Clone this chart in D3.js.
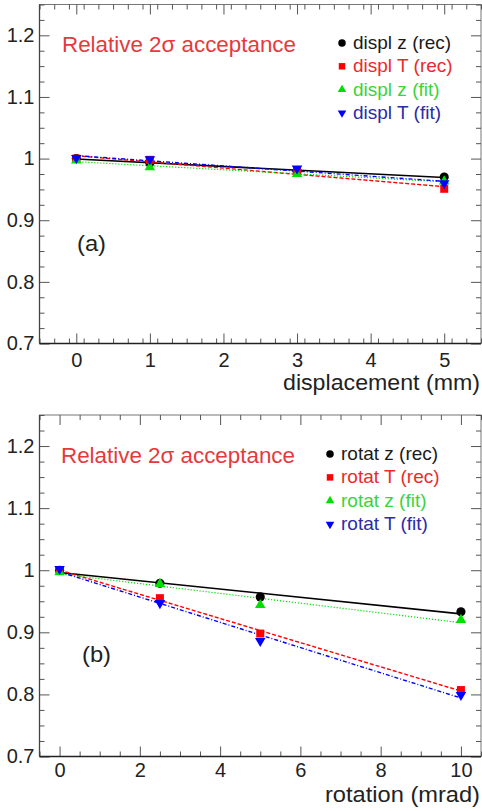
<!DOCTYPE html>
<html>
<head>
<meta charset="utf-8">
<script src="https://cdn.jsdelivr.net/npm/d3@7"></script>
<style>
  html, body { margin: 0; padding: 0; background: #fff; }
  svg { display: block; font-family: "Liberation Sans", Arial, sans-serif; }
</style>
</head>
<body>
<svg id="chart" width="482" height="811"></svg>
<script>
// (a) relative 2-sigma acceptance versus detector displacement
const displX     = [0, 1, 3, 5];
const displZRec  = [1.000, 0.993, 0.980, 0.970];
const displTRec  = [1.000, 0.998, 0.979, 0.951];
const displZFit  = [0.997, 0.986, 0.975, 0.963];
const displTFit  = [1.001, 0.999, 0.984, 0.960];

// (b) relative 2-sigma acceptance versus detector rotation
const rotatX     = [0, 2.5, 5, 10];
const rotatZRec  = [1.000, 0.979, 0.957, 0.933];
const rotatTRec  = [1.000, 0.955, 0.898, 0.807];
const rotatZFit  = [0.997, 0.978, 0.944, 0.920];
const rotatTFit  = [1.002, 0.947, 0.886, 0.799];

// tick values and labels
const yTicks      = [0.7, 0.8, 0.9, 1, 1.1, 1.2];
const yTickLabels = ["0.7", "0.8", "0.9", "1", "1.1", "1.2"];
const displTicks  = [0, 1, 2, 3, 4, 5];
const rotatTicks  = [0, 2, 4, 6, 8, 10];

// series names
const displNames = ["displ z (rec)", "displ T (rec)", "displ z (fit)", "displ T (fit)"];
const rotatNames = ["rotat z (rec)", "rotat T (rec)", "rotat z (fit)", "rotat T (fit)"];

// marker / line styles for the four series, in drawing order
const styles = [
  { color: "#000000", text: "#1a1a1a", symbol: d3.symbolCircle,   size: 66, legendSize: 44, rot: 0,   dash: null,      width: 1.6 },
  { color: "#ff0000", text: "#ec2a2a", symbol: d3.symbolSquare,   size: 64, legendSize: 42, rot: 0,   dash: "4,2",     width: 1.4 },
  { color: "#00e000", text: "#3ad43a", symbol: d3.symbolTriangle, size: 48, legendSize: 32, rot: 0,   dash: "1.2,1.8", width: 1.2 },
  { color: "#0000ff", text: "#2b2ba8", symbol: d3.symbolTriangle, size: 48, legendSize: 32, rot: 180, dash: "4,2,1,2", width: 1.4 }
];

const svg = d3.select("#chart");

// least-squares straight line through a series
function linFit(xs, ys) {
  const mx = d3.mean(xs), my = d3.mean(ys);
  let sxy = 0, sxx = 0;
  xs.forEach((x, i) => { sxy += (x - mx) * (ys[i] - my); sxx += (x - mx) * (x - mx); });
  const b = sxy / sxx;
  return { a: my - b * mx, b: b };
}

function minorValues(domain, step, majors) {
  const n = Math.round((domain[1] - domain[0]) / step);
  const out = [];
  for (let i = 0; i <= n; i++) {
    const v = +(domain[0] + i * step).toFixed(6);
    if (!majors.some(m => Math.abs(m - v) < 1e-6)) out.push(v);
  }
  return out;
}

function drawPanel(cfg) {
  const x = d3.scaleLinear().domain(cfg.xDomain).range([cfg.left, cfg.right]);
  const y = d3.scaleLinear().domain([0.7, 1.25]).range([cfg.bottom, cfg.top]);
  const g = svg.append("g");

  // frame
  g.append("rect")
    .attr("x", cfg.left).attr("y", cfg.top)
    .attr("width", cfg.right - cfg.left).attr("height", cfg.bottom - cfg.top)
    .attr("fill", "none").attr("stroke", "#777").attr("stroke-width", 1);

  const yMinor = minorValues([0.7, 1.25], 0.025, yTicks);
  const xMinor = minorValues(cfg.xDomain, cfg.xMinorStep, cfg.xTicks);

  const styleAxis = sel => {
    sel.select(".domain").remove();
    sel.selectAll(".tick line").attr("stroke", "#555").attr("stroke-width", 1);
  };

  // left axis with labels
  const yLab = d3.scaleOrdinal().domain(yTicks).range(yTickLabels);
  g.append("g").attr("transform", `translate(${cfg.left},0)`)
    .call(d3.axisLeft(y).tickValues(yTicks).tickSize(-10).tickPadding(5).tickFormat(d => yLab(d)))
    .call(styleAxis)
    .call(s => s.selectAll("text").attr("font-size", 20).attr("fill", "#222")
      .style("font-family", '"Liberation Sans", Arial, sans-serif'));
  g.append("g").attr("transform", `translate(${cfg.left},0)`)
    .call(d3.axisLeft(y).tickValues(yMinor).tickSize(-5).tickFormat(""))
    .call(styleAxis);

  // right axis ticks
  g.append("g").attr("transform", `translate(${cfg.right},0)`)
    .call(d3.axisRight(y).tickValues(yTicks).tickSize(-10).tickFormat(""))
    .call(styleAxis);
  g.append("g").attr("transform", `translate(${cfg.right},0)`)
    .call(d3.axisRight(y).tickValues(yMinor).tickSize(-5).tickFormat(""))
    .call(styleAxis);

  // bottom axis with labels
  g.append("g").attr("transform", `translate(0,${cfg.bottom})`)
    .call(d3.axisBottom(x).tickValues(cfg.xTicks).tickSize(-10).tickPadding(cfg.xPad).tickFormat(d => String(d)))
    .call(styleAxis)
    .call(s => s.selectAll("text").attr("font-size", 20).attr("fill", "#222")
      .style("font-family", '"Liberation Sans", Arial, sans-serif'));
  g.append("g").attr("transform", `translate(0,${cfg.bottom})`)
    .call(d3.axisBottom(x).tickValues(xMinor).tickSize(-5).tickFormat(""))
    .call(styleAxis);

  // top axis ticks
  g.append("g").attr("transform", `translate(0,${cfg.top})`)
    .call(d3.axisTop(x).tickValues(cfg.xTicks).tickSize(-10).tickFormat(""))
    .call(styleAxis);
  g.append("g").attr("transform", `translate(0,${cfg.top})`)
    .call(d3.axisTop(x).tickValues(xMinor).tickSize(-5).tickFormat(""))
    .call(styleAxis);

  // left and bottom axis lines, drawn darker
  g.append("line").attr("x1", cfg.left).attr("x2", cfg.right)
    .attr("y1", cfg.bottom).attr("y2", cfg.bottom)
    .attr("stroke", "#222").attr("stroke-width", 1.6);
  g.append("line").attr("x1", cfg.left).attr("x2", cfg.left)
    .attr("y1", cfg.top).attr("y2", cfg.bottom)
    .attr("stroke", "#444").attr("stroke-width", 1.3);

  // straight-line fits
  const xs = cfg.xValues;
  const xEnds = [d3.min(xs), d3.max(xs)];
  const line = d3.line().x(d => x(d[0])).y(d => y(d[1]));
  cfg.series.forEach((ys, i) => {
    const f = linFit(xs, ys);
    const st = styles[i];
    g.append("path")
      .datum(xEnds.map(v => [v, f.a + f.b * v]))
      .attr("d", line)
      .attr("fill", "none")
      .attr("stroke", st.color)
      .attr("stroke-width", st.width)
      .attr("stroke-dasharray", st.dash);
  });

  // markers
  cfg.series.forEach((ys, i) => {
    const st = styles[i];
    g.append("g").selectAll("path")
      .data(xs.map((v, k) => [v, ys[k]]))
      .join("path")
      .attr("d", d3.symbol().type(st.symbol).size(st.size))
      .attr("transform", d => `translate(${x(d[0])},${y(d[1])}) rotate(${st.rot})`)
      .attr("fill", st.color);
  });

  // title
  g.append("text")
    .attr("x", cfg.titleX).attr("y", cfg.titleY)
    .attr("font-size", 22).attr("fill", "#e43a3e")
    .attr("textLength", 234).attr("lengthAdjust", "spacingAndGlyphs")
    .text("Relative 2σ acceptance");

  // legend
  cfg.names.forEach((name, i) => {
    const st = styles[i];
    const by = cfg.legendY + i * cfg.legendStep;
    g.append("path")
      .attr("d", d3.symbol().type(st.symbol).size(st.legendSize))
      .attr("transform", `translate(${cfg.legendX},${by - 6}) rotate(${st.rot})`)
      .attr("fill", st.color);
    g.append("text")
      .attr("x", cfg.legendX + 11).attr("y", by)
      .attr("font-size", 19).attr("fill", st.text)
      .text(name);
  });

  // panel tag
  g.append("text")
    .attr("x", cfg.tagX).attr("y", cfg.tagY)
    .attr("font-size", 22).attr("fill", "#222")
    .attr("textLength", 29).attr("lengthAdjust", "spacingAndGlyphs")
    .text(cfg.tag);

  // x-axis title
  g.append("text")
    .attr("x", cfg.right - 1).attr("y", cfg.xTitleY)
    .attr("text-anchor", "end")
    .attr("font-size", 22).attr("fill", "#222")
    .attr("textLength", cfg.xTitleLen).attr("lengthAdjust", "spacingAndGlyphs")
    .text(cfg.xTitle);
}

drawPanel({
  left: 39.5, right: 481, top: 4.5, bottom: 343.5,
  xDomain: [-0.5, 5.5], xTicks: displTicks, xMinorStep: 0.2, xPad: 9,
  xValues: displX, series: [displZRec, displTRec, displZFit, displTFit],
  names: displNames, legendX: 342, legendY: 49, legendStep: 23.3,
  titleX: 62, titleY: 51.5, tag: "(a)", tagX: 77, tagY: 250.5,
  xTitle: "displacement (mm)", xTitleY: 389.5, xTitleLen: 197
});

drawPanel({
  left: 39.5, right: 481, top: 415, bottom: 756.5,
  xDomain: [-0.5, 10.5], xTicks: rotatTicks, xMinorStep: 0.5, xPad: 6,
  xValues: rotatX, series: [rotatZRec, rotatTRec, rotatZFit, rotatTFit],
  names: rotatNames, legendX: 330, legendY: 460, legendStep: 23.4,
  titleX: 61, titleY: 462.5, tag: "(b)", tagX: 82, tagY: 662,
  xTitle: "rotation (mrad)", xTitleY: 801.5, xTitleLen: 155
});
</script>
</body>
</html>
